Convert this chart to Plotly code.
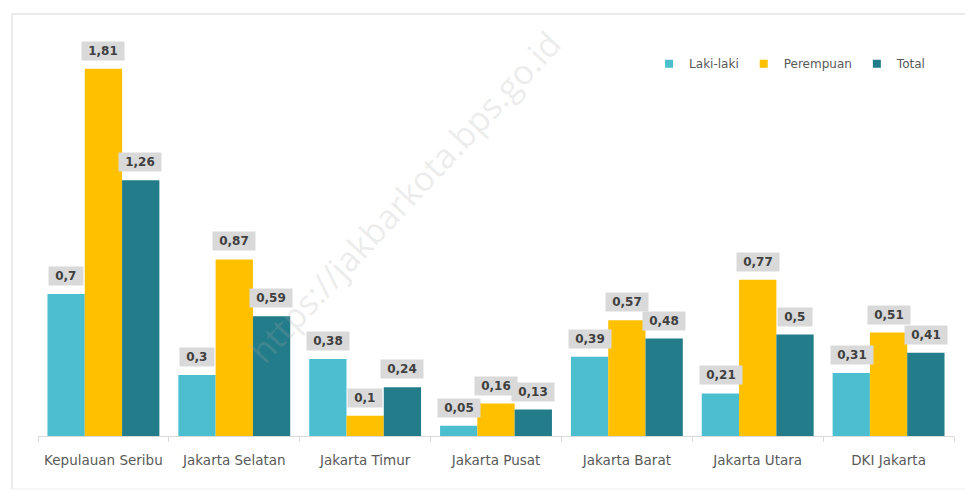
import plotly.graph_objects as go

categories = ["Kepulauan Seribu", "Jakarta Selatan", "Jakarta Timur", "Jakarta Pusat",
              "Jakarta Barat", "Jakarta Utara", "DKI Jakarta"]
laki = [0.70, 0.30, 0.38, 0.05, 0.39, 0.21, 0.31]
perempuan = [1.81, 0.87, 0.10, 0.16, 0.57, 0.77, 0.51]
total = [1.26, 0.59, 0.24, 0.13, 0.48, 0.50, 0.41]
series_names = ["Laki-laki", "Perempuan", "Total"]
series_colors = ["#4bbfd0", "#ffc000", "#237c8a"]

series = [laki, perempuan, total]

fig = go.Figure()
for name, vals, col in zip(series_names, series, series_colors):
    fig.add_trace(go.Bar(x=categories, y=vals, name=name, marker_color=col,
                         marker_line_width=0, showlegend=False))
# legend entries with small square swatches
for name, col in zip(series_names, series_colors):
    fig.add_trace(go.Scatter(x=[None], y=[None], mode="markers", name=name,
                             marker=dict(symbol="square", size=8, color=col)))

def fmt(v):
    s = f"{v:.2f}".rstrip("0").rstrip(".")
    return s.replace(".", ",")

shifts = [-37, 0, 37]
annotations = []
for vals, dx in zip(series, shifts):
    for c, v in zip(categories, vals):
        annotations.append(dict(x=c, y=v, xref="x", yref="y",
                                text="&nbsp;" + fmt(v) + "&nbsp;",
                                showarrow=False, yanchor="bottom", xshift=dx, yshift=8,
                                bgcolor="#d9d9d9", borderpad=2,
                                font=dict(family="DejaVu Sans", size=12, color="#404040",
                                          weight="bold")))

# watermark
annotations.append(dict(x=0.40, y=0.575, xref="paper", yref="paper",
                        text="https://jakbarkota.bps.go.id", showarrow=False,
                        textangle=-47,
                        font=dict(family="Open Sans", size=34, color="rgba(170,170,170,0.22)")))

border = "#e3e3e3"
px = lambda p: (p - 38) / 916
py = lambda p: (436 - p) / 416

fig.update_layout(
    width=965, height=493,
    margin=dict(l=38, r=11, t=20, b=57),
    paper_bgcolor="white", plot_bgcolor="white",
    barmode="group", bargap=0.145, bargroupgap=0,
    annotations=annotations,
    showlegend=True,
    legend=dict(orientation="h", x=0.975, xanchor="right", y=0.895, yanchor="middle",
                font=dict(family="DejaVu Sans", size=12, color="#595959"),
                bgcolor="rgba(0,0,0,0)", traceorder="normal", itemwidth=30,
                tracegroupgap=0),
    xaxis=dict(showline=True, linecolor="#d9d9d9", linewidth=1, ticks="outside",
               tickson="boundaries", ticklen=5, tickcolor="#d9d9d9",
               ticklabelstandoff=12,
               tickfont=dict(family="DejaVu Sans", size=13.5, color="#595959"),
               showgrid=False),
    yaxis=dict(range=[0, 2.05], visible=False, showgrid=False, zeroline=False),
    shapes=[
        dict(type="line", xref="paper", yref="paper", x0=px(12), x1=px(965),
             y0=py(14), y1=py(14), line=dict(color=border, width=1.5), layer="below"),
        dict(type="line", xref="paper", yref="paper", x0=px(12), x1=px(12),
             y0=py(14), y1=py(489), line=dict(color=border, width=1.5), layer="below"),
        dict(type="line", xref="paper", yref="paper", x0=px(12), x1=px(965),
             y0=py(489), y1=py(489), line=dict(color="#efefef", width=1), layer="below"),
    ],
)

fig.write_html("out.html", config={"displayModeBar": False},
               post_script="document.body.style.margin='0';document.body.style.overflow='hidden';")
